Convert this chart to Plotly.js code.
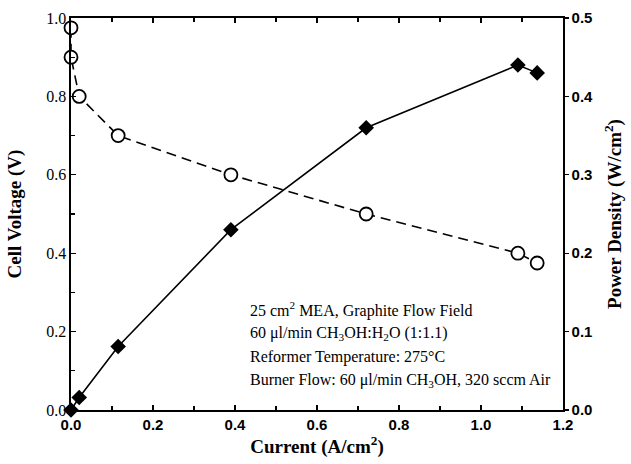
<!DOCTYPE html>
<html>
<head>
<meta charset="utf-8">
<script src="https://cdn.plot.ly/plotly-3.0.1.min.js"></script>
<style>html,body{margin:0;padding:0;background:#fff;}#chart{width:631px;height:464px;}</style>
</head>
<body>
<div id="chart"></div>
<script>
const voltageCurrent = [0.0, 0.0, 0.02, 0.115, 0.39, 0.72, 1.09, 1.137];
const voltage = [0.975, 0.90, 0.80, 0.70, 0.60, 0.50, 0.40, 0.375];
const powerCurrent = [0.0, 0.02, 0.115, 0.39, 0.72, 1.09, 1.137];
const power = [0.0, 0.016, 0.081, 0.23, 0.36, 0.44, 0.43];
const notes = [
  "25 cm<sup>2</sup> MEA, Graphite Flow Field",
  "60 \u03bcl/min CH<sub>3</sub>OH:H<sub>2</sub>O (1:1.1)",
  "Reformer Temperature: 275\u00b0C",
  "Burner Flow: 60 \u03bcl/min CH<sub>3</sub>OH, 320 sccm Air"
];
const noteY = [0.257, 0.196, 0.135, 0.074];

const serif = "Liberation Serif";
const sans = "Liberation Sans";

const traces = [
  {
    x: voltageCurrent, y: voltage, type: "scatter", mode: "lines+markers",
    line: {color: "#000", width: 1.6, dash: "10px,6px"},
    marker: {symbol: "circle", size: 13, color: "#fff", line: {color: "#000", width: 1.8}},
    cliponaxis: false, showlegend: false
  },
  {
    x: powerCurrent, y: power, type: "scatter", mode: "lines+markers", yaxis: "y2",
    line: {color: "#000", width: 1.6},
    marker: {symbol: "diamond", size: 12, color: "#000"},
    cliponaxis: false, showlegend: false
  }
];

const annotations = notes.map((t, i) => ({
  text: t, x: 0.432, y: noteY[i], xref: "x", yref: "y",
  xanchor: "left", yanchor: "middle", showarrow: false,
  font: {family: serif, size: 16, color: "#000"}
}));

const layout = {
  width: 631, height: 464,
  margin: {l: 71, r: 68, t: 18, b: 54},
  paper_bgcolor: "#fff", plot_bgcolor: "#fff",
  xaxis: {
    range: [0, 1.2], dtick: 0.2, tickformat: ".1f",
    showgrid: false, zeroline: false, showline: true, linecolor: "#000", linewidth: 1.6,
    mirror: "ticks", ticks: "inside", ticklen: 5, tickwidth: 1.3, tickcolor: "#000",
    minor: {dtick: 0.1, ticks: "inside", ticklen: 4, tickcolor: "#000", tickwidth: 1.3},
    tickfont: {family: sans, size: 15, color: "#000", weight: "bold"},
    title: {text: "Current (A/cm<sup>2</sup>)", font: {family: serif, size: 19, color: "#000", weight: "bold"}, standoff: 6}
  },
  yaxis: {
    range: [0, 1.0], dtick: 0.2, tickformat: ".1f",
    showgrid: false, zeroline: false, showline: true, linecolor: "#000", linewidth: 1.6,
    ticks: "inside", ticklen: 5, tickwidth: 1.3, tickcolor: "#000",
    minor: {dtick: 0.1, ticks: "inside", ticklen: 4, tickcolor: "#000", tickwidth: 1.3},
    tickfont: {family: serif, size: 16, color: "#000"},
    title: {text: "Cell Voltage (V)", font: {family: serif, size: 19, color: "#000", weight: "bold"}, standoff: 19}
  },
  yaxis2: {
    range: [0, 0.5], dtick: 0.1, tickformat: ".1f", overlaying: "y", side: "right",
    showgrid: false, zeroline: false, showline: true, linecolor: "#000", linewidth: 1.6,
    ticks: "outside", ticklen: 4, tickwidth: 1.3, tickcolor: "#000",
    tickfont: {family: sans, size: 15, color: "#000", weight: "bold"},
    title: {text: "Power Density (W/cm<sup>2</sup>)", font: {family: serif, size: 19, color: "#000", weight: "bold"}, standoff: 15}
  },
  annotations: annotations
};

Plotly.newPlot("chart", traces, layout, {staticPlot: true, displayModeBar: false});
</script>
</body>
</html>
